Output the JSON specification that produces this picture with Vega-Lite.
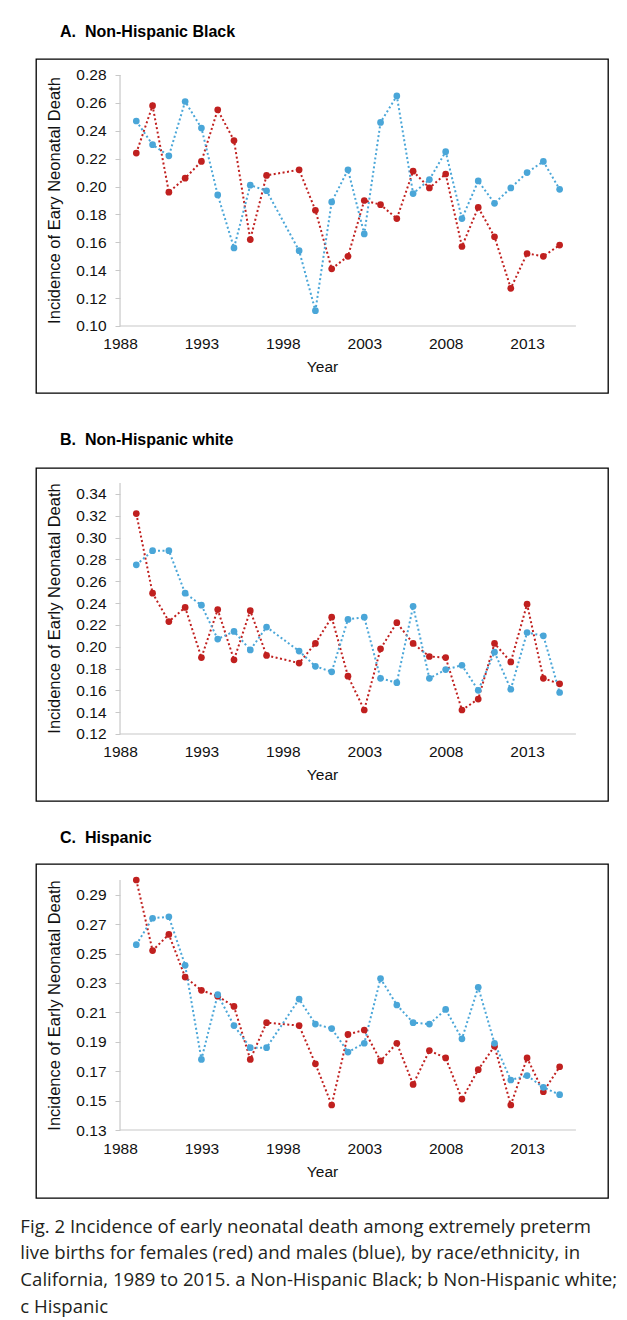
{
  "$schema": "https://vega.github.io/schema/vega-lite/v6.json",
  "background": "white",
  "padding": {"left": 20, "top": 23, "right": 0, "bottom": 4},
  "datasets": {
    "black": [
      {"year":1989,"sex":"Female","value":0.224},{"year":1990,"sex":"Female","value":0.258},{"year":1991,"sex":"Female","value":0.196},{"year":1992,"sex":"Female","value":0.206},{"year":1993,"sex":"Female","value":0.218},{"year":1994,"sex":"Female","value":0.255},{"year":1995,"sex":"Female","value":0.233},{"year":1996,"sex":"Female","value":0.162},{"year":1997,"sex":"Female","value":0.208},{"year":1999,"sex":"Female","value":0.212},{"year":2000,"sex":"Female","value":0.183},{"year":2001,"sex":"Female","value":0.141},{"year":2002,"sex":"Female","value":0.150},{"year":2003,"sex":"Female","value":0.190},{"year":2004,"sex":"Female","value":0.187},{"year":2005,"sex":"Female","value":0.177},{"year":2006,"sex":"Female","value":0.211},{"year":2007,"sex":"Female","value":0.199},{"year":2008,"sex":"Female","value":0.209},{"year":2009,"sex":"Female","value":0.157},{"year":2010,"sex":"Female","value":0.185},{"year":2011,"sex":"Female","value":0.164},{"year":2012,"sex":"Female","value":0.127},{"year":2013,"sex":"Female","value":0.152},{"year":2014,"sex":"Female","value":0.150},{"year":2015,"sex":"Female","value":0.158},
      {"year":1989,"sex":"Male","value":0.247},{"year":1990,"sex":"Male","value":0.230},{"year":1991,"sex":"Male","value":0.222},{"year":1992,"sex":"Male","value":0.261},{"year":1993,"sex":"Male","value":0.242},{"year":1994,"sex":"Male","value":0.194},{"year":1995,"sex":"Male","value":0.156},{"year":1996,"sex":"Male","value":0.201},{"year":1997,"sex":"Male","value":0.197},{"year":1999,"sex":"Male","value":0.154},{"year":2000,"sex":"Male","value":0.111},{"year":2001,"sex":"Male","value":0.189},{"year":2002,"sex":"Male","value":0.212},{"year":2003,"sex":"Male","value":0.166},{"year":2004,"sex":"Male","value":0.246},{"year":2005,"sex":"Male","value":0.265},{"year":2006,"sex":"Male","value":0.195},{"year":2007,"sex":"Male","value":0.205},{"year":2008,"sex":"Male","value":0.225},{"year":2009,"sex":"Male","value":0.177},{"year":2010,"sex":"Male","value":0.204},{"year":2011,"sex":"Male","value":0.188},{"year":2012,"sex":"Male","value":0.199},{"year":2013,"sex":"Male","value":0.210},{"year":2014,"sex":"Male","value":0.218},{"year":2015,"sex":"Male","value":0.198}
    ],
    "white": [
      {"year":1989,"sex":"Female","value":0.322},{"year":1990,"sex":"Female","value":0.249},{"year":1991,"sex":"Female","value":0.223},{"year":1992,"sex":"Female","value":0.236},{"year":1993,"sex":"Female","value":0.190},{"year":1994,"sex":"Female","value":0.234},{"year":1995,"sex":"Female","value":0.188},{"year":1996,"sex":"Female","value":0.233},{"year":1997,"sex":"Female","value":0.192},{"year":1999,"sex":"Female","value":0.185},{"year":2000,"sex":"Female","value":0.203},{"year":2001,"sex":"Female","value":0.227},{"year":2002,"sex":"Female","value":0.173},{"year":2003,"sex":"Female","value":0.142},{"year":2004,"sex":"Female","value":0.198},{"year":2005,"sex":"Female","value":0.222},{"year":2006,"sex":"Female","value":0.203},{"year":2007,"sex":"Female","value":0.191},{"year":2008,"sex":"Female","value":0.190},{"year":2009,"sex":"Female","value":0.142},{"year":2010,"sex":"Female","value":0.152},{"year":2011,"sex":"Female","value":0.203},{"year":2012,"sex":"Female","value":0.186},{"year":2013,"sex":"Female","value":0.239},{"year":2014,"sex":"Female","value":0.171},{"year":2015,"sex":"Female","value":0.166},
      {"year":1989,"sex":"Male","value":0.275},{"year":1990,"sex":"Male","value":0.288},{"year":1991,"sex":"Male","value":0.288},{"year":1992,"sex":"Male","value":0.249},{"year":1993,"sex":"Male","value":0.238},{"year":1994,"sex":"Male","value":0.207},{"year":1995,"sex":"Male","value":0.214},{"year":1996,"sex":"Male","value":0.197},{"year":1997,"sex":"Male","value":0.218},{"year":1999,"sex":"Male","value":0.196},{"year":2000,"sex":"Male","value":0.182},{"year":2001,"sex":"Male","value":0.177},{"year":2002,"sex":"Male","value":0.225},{"year":2003,"sex":"Male","value":0.227},{"year":2004,"sex":"Male","value":0.171},{"year":2005,"sex":"Male","value":0.167},{"year":2006,"sex":"Male","value":0.237},{"year":2007,"sex":"Male","value":0.171},{"year":2008,"sex":"Male","value":0.179},{"year":2009,"sex":"Male","value":0.183},{"year":2010,"sex":"Male","value":0.160},{"year":2011,"sex":"Male","value":0.195},{"year":2012,"sex":"Male","value":0.161},{"year":2013,"sex":"Male","value":0.213},{"year":2014,"sex":"Male","value":0.210},{"year":2015,"sex":"Male","value":0.158}
    ],
    "hispanic": [
      {"year":1989,"sex":"Female","value":0.300},{"year":1990,"sex":"Female","value":0.252},{"year":1991,"sex":"Female","value":0.263},{"year":1992,"sex":"Female","value":0.234},{"year":1993,"sex":"Female","value":0.225},{"year":1994,"sex":"Female","value":0.221},{"year":1995,"sex":"Female","value":0.214},{"year":1996,"sex":"Female","value":0.178},{"year":1997,"sex":"Female","value":0.203},{"year":1999,"sex":"Female","value":0.201},{"year":2000,"sex":"Female","value":0.175},{"year":2001,"sex":"Female","value":0.147},{"year":2002,"sex":"Female","value":0.195},{"year":2003,"sex":"Female","value":0.198},{"year":2004,"sex":"Female","value":0.177},{"year":2005,"sex":"Female","value":0.189},{"year":2006,"sex":"Female","value":0.161},{"year":2007,"sex":"Female","value":0.184},{"year":2008,"sex":"Female","value":0.179},{"year":2009,"sex":"Female","value":0.151},{"year":2010,"sex":"Female","value":0.171},{"year":2011,"sex":"Female","value":0.187},{"year":2012,"sex":"Female","value":0.147},{"year":2013,"sex":"Female","value":0.179},{"year":2014,"sex":"Female","value":0.156},{"year":2015,"sex":"Female","value":0.173},
      {"year":1989,"sex":"Male","value":0.256},{"year":1990,"sex":"Male","value":0.274},{"year":1991,"sex":"Male","value":0.275},{"year":1992,"sex":"Male","value":0.242},{"year":1993,"sex":"Male","value":0.178},{"year":1994,"sex":"Male","value":0.222},{"year":1995,"sex":"Male","value":0.201},{"year":1996,"sex":"Male","value":0.186},{"year":1997,"sex":"Male","value":0.186},{"year":1999,"sex":"Male","value":0.219},{"year":2000,"sex":"Male","value":0.202},{"year":2001,"sex":"Male","value":0.199},{"year":2002,"sex":"Male","value":0.183},{"year":2003,"sex":"Male","value":0.189},{"year":2004,"sex":"Male","value":0.233},{"year":2005,"sex":"Male","value":0.215},{"year":2006,"sex":"Male","value":0.203},{"year":2007,"sex":"Male","value":0.202},{"year":2008,"sex":"Male","value":0.212},{"year":2009,"sex":"Male","value":0.192},{"year":2010,"sex":"Male","value":0.227},{"year":2011,"sex":"Male","value":0.189},{"year":2012,"sex":"Male","value":0.164},{"year":2013,"sex":"Male","value":0.167},{"year":2014,"sex":"Male","value":0.159},{"year":2015,"sex":"Male","value":0.154}
    ]
  },
  "title": {
    "text": [
      "Fig. 2 Incidence of early neonatal death among extremely preterm",
      "live births for females (red) and males (blue), by race/ethnicity, in",
      "California, 1989 to 2015. a Non-Hispanic Black; b Non-Hispanic white;",
      "c Hispanic"
    ],
    "orient": "bottom",
    "anchor": "start",
    "dx": -15,
    "offset": 19,
    "font": "Open Sans",
    "fontSize": 18.6,
    "fontWeight": "normal",
    "color": "#231f20",
    "lineHeight": 26.7
  },
  "spacing": 27,
  "vconcat": [
    {
      "spacing": 37,
      "vconcat": [
        {
          "width": 572,
          "height": 334,
          "title": {"text": "A.\u00a0 Non-Hispanic Black", "anchor": "start", "dx": 24, "offset": 19},
          "layer": [
            {
              "data": {"name": "black"},
              "mark": {"type": "line", "strokeWidth": 2, "strokeDash": [2, 2.5]},
              "encoding": {
                "x": {"field": "year", "type": "quantitative",
                  "scale": {"domain": [1982.84, 2017.97], "nice": false, "zero": false},
                  "axis": {"values": [1988, 1993, 1998, 2003, 2008, 2013], "format": "d", "offset": -67, "ticks": false, "tickSize": 0, "labelPadding": 10, "title": "Year", "titlePadding": 8}},
                "y": {"field": "value", "type": "quantitative",
                  "scale": {"domain": [0.05195, 0.29147], "nice": false, "zero": false},
                  "axis": {"values": [0.10, 0.12, 0.14, 0.16, 0.18, 0.20, 0.22, 0.24, 0.26, 0.28], "format": ".2f", "labelOverlap": false, "offset": -84, "tickSize": 5, "labelPadding": 9, "title": "Incidence of Eary Neonatal Death", "titlePadding": 13, "titleY": 141}},
                "color": {"field": "sex", "type": "nominal", "scale": {"domain": ["Female", "Male"], "range": ["#c0201f", "#4aa6d8"]}, "legend": null}
              }
            },
            {
              "data": {"name": "black"},
              "mark": {"type": "point", "filled": true, "size": 45, "opacity": 1},
              "encoding": {
                "x": {"field": "year", "type": "quantitative",
                  "axis": {"values": [1988, 1993, 1998, 2003, 2008, 2013], "format": "d", "offset": -67, "ticks": false, "tickSize": 0, "labelPadding": 10, "title": "Year", "titlePadding": 8}},
                "y": {"field": "value", "type": "quantitative",
                  "axis": {"values": [0.10, 0.12, 0.14, 0.16, 0.18, 0.20, 0.22, 0.24, 0.26, 0.28], "format": ".2f", "labelOverlap": false, "offset": -84, "tickSize": 5, "labelPadding": 9, "title": "Incidence of Eary Neonatal Death", "titlePadding": 13, "titleY": 141}},
                "color": {"field": "sex", "type": "nominal", "legend": null}
              }
            },
            {
              "data": {"values": [{}]},
              "mark": {"type": "rule", "color": "#c8c8c8", "strokeWidth": 1.2},
              "encoding": {
                "x": {"datum": 1988, "type": "quantitative",
                  "axis": {"values": [1988, 1993, 1998, 2003, 2008, 2013], "format": "d", "offset": -67, "ticks": false, "tickSize": 0, "labelPadding": 10, "title": "Year", "titlePadding": 8}},
                "y": {"datum": 0.10, "type": "quantitative",
                  "axis": {"values": [0.10, 0.12, 0.14, 0.16, 0.18, 0.20, 0.22, 0.24, 0.26, 0.28], "format": ".2f", "labelOverlap": false, "offset": -84, "tickSize": 5, "labelPadding": 9, "title": "Incidence of Eary Neonatal Death", "titlePadding": 13, "titleY": 141}},
                "y2": {"datum": 0.28}
              }
            },
            {
              "data": {"values": [{}]},
              "mark": {"type": "rule", "color": "#c8c8c8", "strokeWidth": 1.2},
              "encoding": {
                "x": {"datum": 1988, "type": "quantitative",
                  "axis": {"values": [1988, 1993, 1998, 2003, 2008, 2013], "format": "d", "offset": -67, "ticks": false, "tickSize": 0, "labelPadding": 10, "title": "Year", "titlePadding": 8}},
                "x2": {"datum": 2016},
                "y": {"datum": 0.10, "type": "quantitative",
                  "axis": {"values": [0.10, 0.12, 0.14, 0.16, 0.18, 0.20, 0.22, 0.24, 0.26, 0.28], "format": ".2f", "labelOverlap": false, "offset": -84, "tickSize": 5, "labelPadding": 9, "title": "Incidence of Eary Neonatal Death", "titlePadding": 13, "titleY": 141}}
              }
            }
          ]
        },
        {
          "width": 572,
          "height": 333,
          "title": {"text": "B.\u00a0 Non-Hispanic white", "anchor": "start", "dx": 24, "offset": 20},
          "layer": [
            {
              "data": {"name": "white"},
              "mark": {"type": "line", "strokeWidth": 2, "strokeDash": [2, 2.5]},
              "encoding": {
                "x": {"field": "year", "type": "quantitative",
                  "scale": {"domain": [1982.84, 2017.97], "nice": false, "zero": false},
                  "axis": {"values": [1988, 1993, 1998, 2003, 2008, 2013], "format": "d", "offset": -67, "ticks": false, "tickSize": 0, "labelPadding": 10, "title": "Year", "titlePadding": 8}},
                "y": {"field": "value", "type": "quantitative",
                  "scale": {"domain": [0.05859, 0.36375], "nice": false, "zero": false},
                  "axis": {"values": [0.12, 0.14, 0.16, 0.18, 0.20, 0.22, 0.24, 0.26, 0.28, 0.30, 0.32, 0.34], "format": ".2f", "labelOverlap": false, "offset": -84, "tickSize": 5, "labelPadding": 9, "title": "Incidence of Early Neonatal Death", "titlePadding": 13, "titleY": 140}},
                "color": {"field": "sex", "type": "nominal", "scale": {"domain": ["Female", "Male"], "range": ["#c0201f", "#4aa6d8"]}, "legend": null}
              }
            },
            {
              "data": {"name": "white"},
              "mark": {"type": "point", "filled": true, "size": 45, "opacity": 1},
              "encoding": {
                "x": {"field": "year", "type": "quantitative",
                  "axis": {"values": [1988, 1993, 1998, 2003, 2008, 2013], "format": "d", "offset": -67, "ticks": false, "tickSize": 0, "labelPadding": 10, "title": "Year", "titlePadding": 8}},
                "y": {"field": "value", "type": "quantitative",
                  "axis": {"values": [0.12, 0.14, 0.16, 0.18, 0.20, 0.22, 0.24, 0.26, 0.28, 0.30, 0.32, 0.34], "format": ".2f", "labelOverlap": false, "offset": -84, "tickSize": 5, "labelPadding": 9, "title": "Incidence of Early Neonatal Death", "titlePadding": 13, "titleY": 140}},
                "color": {"field": "sex", "type": "nominal", "legend": null}
              }
            },
            {
              "data": {"values": [{}]},
              "mark": {"type": "rule", "color": "#c8c8c8", "strokeWidth": 1.2},
              "encoding": {
                "x": {"datum": 1988, "type": "quantitative",
                  "axis": {"values": [1988, 1993, 1998, 2003, 2008, 2013], "format": "d", "offset": -67, "ticks": false, "tickSize": 0, "labelPadding": 10, "title": "Year", "titlePadding": 8}},
                "y": {"datum": 0.12, "type": "quantitative",
                  "axis": {"values": [0.12, 0.14, 0.16, 0.18, 0.20, 0.22, 0.24, 0.26, 0.28, 0.30, 0.32, 0.34], "format": ".2f", "labelOverlap": false, "offset": -84, "tickSize": 5, "labelPadding": 9, "title": "Incidence of Early Neonatal Death", "titlePadding": 13, "titleY": 140}},
                "y2": {"datum": 0.35}
              }
            },
            {
              "data": {"values": [{}]},
              "mark": {"type": "rule", "color": "#c8c8c8", "strokeWidth": 1.2},
              "encoding": {
                "x": {"datum": 1988, "type": "quantitative",
                  "axis": {"values": [1988, 1993, 1998, 2003, 2008, 2013], "format": "d", "offset": -67, "ticks": false, "tickSize": 0, "labelPadding": 10, "title": "Year", "titlePadding": 8}},
                "x2": {"datum": 2016},
                "y": {"datum": 0.12, "type": "quantitative",
                  "axis": {"values": [0.12, 0.14, 0.16, 0.18, 0.20, 0.22, 0.24, 0.26, 0.28, 0.30, 0.32, 0.34], "format": ".2f", "labelOverlap": false, "offset": -84, "tickSize": 5, "labelPadding": 9, "title": "Incidence of Early Neonatal Death", "titlePadding": 13, "titleY": 140}}
              }
            }
          ]
        }
      ]
    },
    {
      "width": 572,
      "height": 334,
      "title": {"text": "C.\u00a0 Hispanic", "anchor": "start", "dx": 24, "offset": 18},
      "layer": [
        {
          "data": {"name": "hispanic"},
          "mark": {"type": "line", "strokeWidth": 2, "strokeDash": [2, 2.5]},
          "encoding": {
            "x": {"field": "year", "type": "quantitative",
              "scale": {"domain": [1982.84, 2017.97], "nice": false, "zero": false},
              "axis": {"values": [1988, 1993, 1998, 2003, 2008, 2013], "format": "d", "offset": -67, "ticks": false, "tickSize": 0, "labelPadding": 10, "title": "Year", "titlePadding": 8}},
            "y": {"field": "value", "type": "quantitative",
              "scale": {"domain": [0.08376, 0.31088], "nice": false, "zero": false},
              "axis": {"values": [0.13, 0.15, 0.17, 0.19, 0.21, 0.23, 0.25, 0.27, 0.29], "format": ".2f", "labelOverlap": false, "offset": -84, "tickSize": 5, "labelPadding": 9, "title": "Incidence of Early Neonatal Death", "titlePadding": 13, "titleY": 141}},
            "color": {"field": "sex", "type": "nominal", "scale": {"domain": ["Female", "Male"], "range": ["#c0201f", "#4aa6d8"]}, "legend": null}
          }
        },
        {
          "data": {"name": "hispanic"},
          "mark": {"type": "point", "filled": true, "size": 45, "opacity": 1},
          "encoding": {
            "x": {"field": "year", "type": "quantitative",
              "axis": {"values": [1988, 1993, 1998, 2003, 2008, 2013], "format": "d", "offset": -67, "ticks": false, "tickSize": 0, "labelPadding": 10, "title": "Year", "titlePadding": 8}},
            "y": {"field": "value", "type": "quantitative",
              "axis": {"values": [0.13, 0.15, 0.17, 0.19, 0.21, 0.23, 0.25, 0.27, 0.29], "format": ".2f", "labelOverlap": false, "offset": -84, "tickSize": 5, "labelPadding": 9, "title": "Incidence of Early Neonatal Death", "titlePadding": 13, "titleY": 141}},
            "color": {"field": "sex", "type": "nominal", "legend": null}
          }
        },
        {
          "data": {"values": [{}]},
          "mark": {"type": "rule", "color": "#c8c8c8", "strokeWidth": 1.2},
          "encoding": {
            "x": {"datum": 1988, "type": "quantitative",
              "axis": {"values": [1988, 1993, 1998, 2003, 2008, 2013], "format": "d", "offset": -67, "ticks": false, "tickSize": 0, "labelPadding": 10, "title": "Year", "titlePadding": 8}},
            "y": {"datum": 0.13, "type": "quantitative",
              "axis": {"values": [0.13, 0.15, 0.17, 0.19, 0.21, 0.23, 0.25, 0.27, 0.29], "format": ".2f", "labelOverlap": false, "offset": -84, "tickSize": 5, "labelPadding": 9, "title": "Incidence of Early Neonatal Death", "titlePadding": 13, "titleY": 141}},
            "y2": {"datum": 0.30}
          }
        },
        {
          "data": {"values": [{}]},
          "mark": {"type": "rule", "color": "#c8c8c8", "strokeWidth": 1.2},
          "encoding": {
            "x": {"datum": 1988, "type": "quantitative",
              "axis": {"values": [1988, 1993, 1998, 2003, 2008, 2013], "format": "d", "offset": -67, "ticks": false, "tickSize": 0, "labelPadding": 10, "title": "Year", "titlePadding": 8}},
            "x2": {"datum": 2016},
            "y": {"datum": 0.13, "type": "quantitative",
              "axis": {"values": [0.13, 0.15, 0.17, 0.19, 0.21, 0.23, 0.25, 0.27, 0.29], "format": ".2f", "labelOverlap": false, "offset": -84, "tickSize": 5, "labelPadding": 9, "title": "Incidence of Early Neonatal Death", "titlePadding": 13, "titleY": 141}}
          }
        }
      ]
    }
  ],
  "config": {
    "view": {"stroke": "#000000", "strokeWidth": 1.3},
    "font": "Liberation Sans",
    "title": {"font": "Liberation Sans", "fontSize": 16, "fontWeight": "bold", "color": "#000000"},
    "axis": {
      "labelFont": "Liberation Sans", "labelFontSize": 15.5, "labelColor": "#111111", "labelOverlap": false,
      "titleFont": "Liberation Sans", "titleFontSize": 15.5, "titleFontWeight": "normal", "titleColor": "#111111",
      "grid": false, "domain": false, "tickColor": "#c8c8c8"
    },
    "axisY": {"titleFontSize": 16.5}
  }
}
